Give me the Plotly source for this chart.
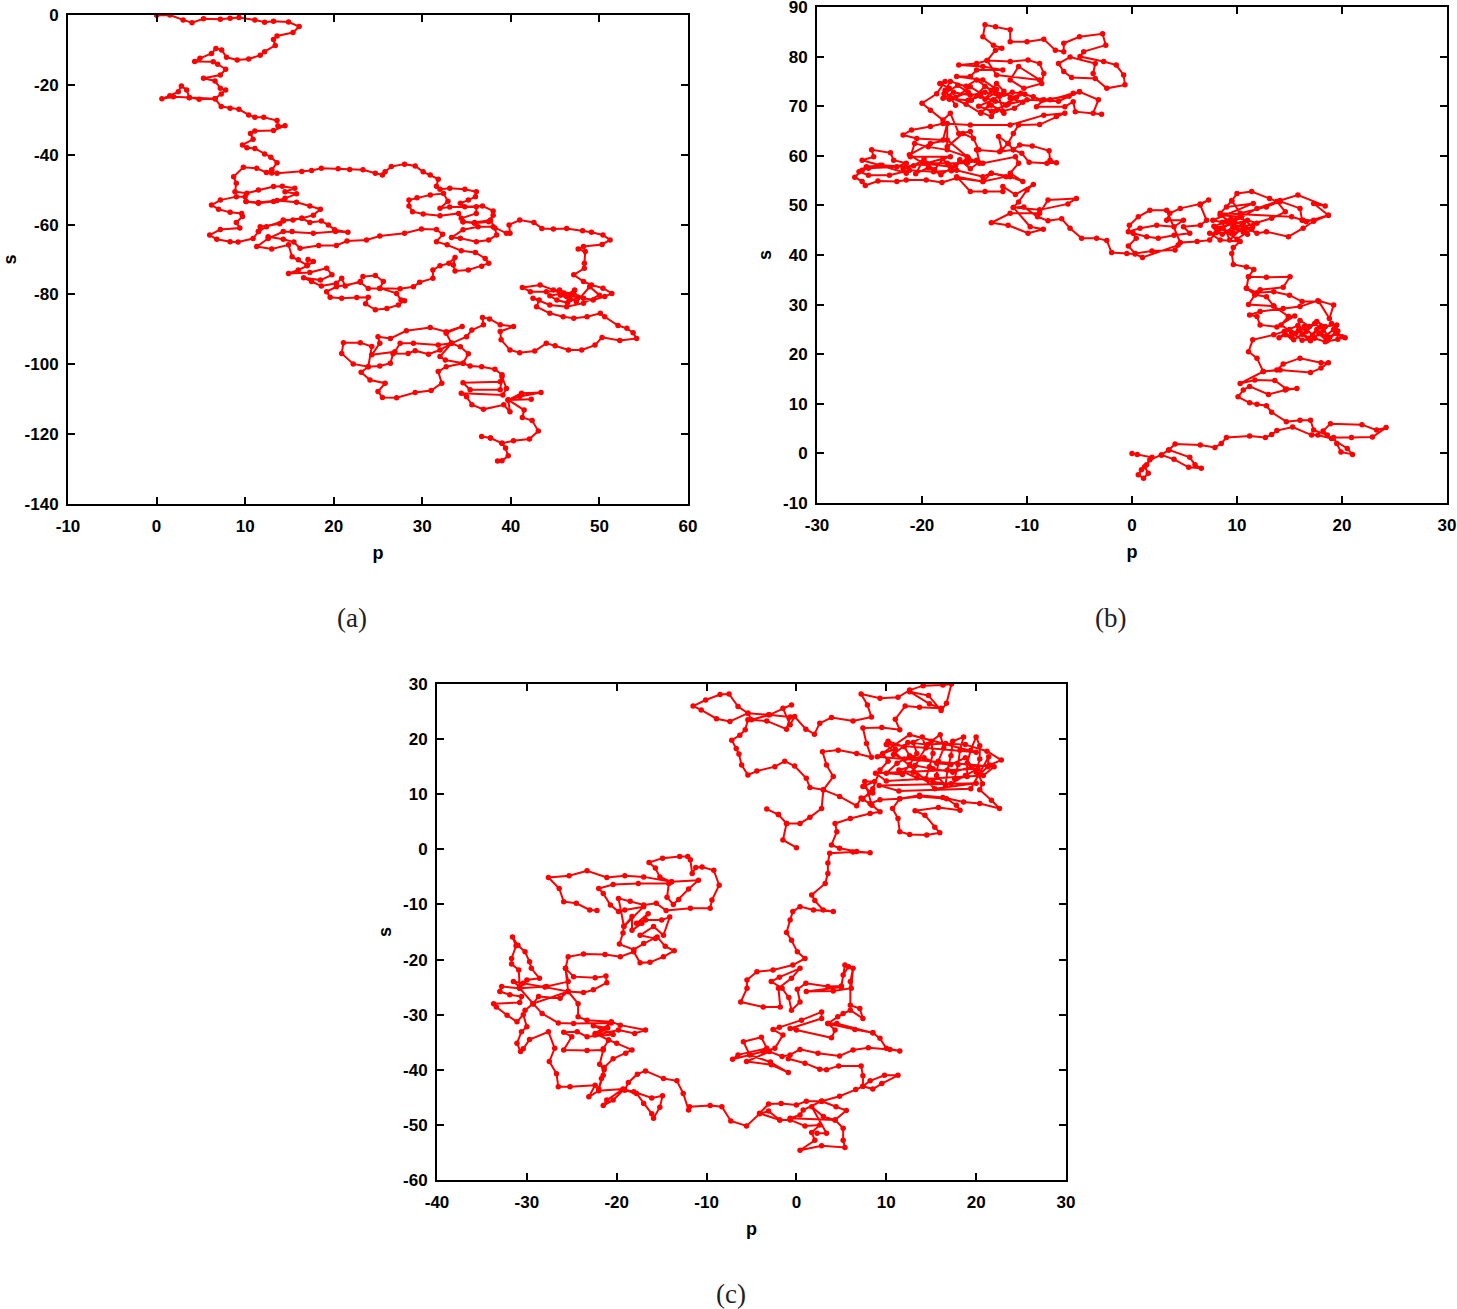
import plotly.graph_objects as go

W, H = 1457, 1309

path_a = [(0,-0.1),(1.5,0),(3,-1.4),(4,-2.2),(5.3,-1.1),(7.2,-1.2),(8.3,-0.9),(9.3,-0.7),(11.1,-1.4),(12.2,-2.1),(13.2,-1.8),(14.9,-2),(16.1,-3.3),(15.4,-5),(13.6,-6),(13.2,-7),(13.4,-8.7),(12.2,-10.5),(11.7,-11.5),(10.4,-12.6),(9.1,-12.9),(7.9,-12.1),(7.35,-10),(6.7,-9.6),(6.2,-11),(4.9,-12.4),(4.3,-13.3),(6.4,-13.4),(6.9,-14.1),(7.8,-15.5),(7.2,-17.2),(5.3,-18.1),(6.6,-18.9),(7.2,-21),(7.8,-21.5),(7.3,-22.6),(6.6,-24),(4.8,-24.1),(3.7,-23.6),(3.4,-21.5),(2.8,-20.3),(2.45,-22),(1.5,-23.1),(0.6,-24),(1.9,-23.4),(3.7,-23.7),(6.6,-24),(7.3,-26.2),(8.3,-26.7),(9.3,-27),(10.4,-28.6),(11.1,-29.3),(12.1,-29.3),(13.6,-30.2),(13.7,-31.8),(14.5,-31.7),(13.2,-33.1),(11.1,-33.2),(10.6,-33.9),(10.9,-35.6),(9.7,-37.2),(10.2,-38),(11.1,-38.2),(12.2,-39.8),(12.9,-40.7),(13.6,-42.3),(13,-44.4),(12.4,-45.1),(11.3,-43.9),(9.8,-43.6),(8.7,-46.3),(9,-48.2),(8.85,-50.6),(10.2,-51),(11.5,-50.1),(13.2,-49.1),(14.2,-49),(15.6,-49.6),(14.5,-50.6),(15.8,-51.2),(14.5,-52.5),(13.2,-53.4),(11.5,-53.9),(10.1,-53.4),(10,-52),(9,-52),(7.2,-53),(6.2,-54.4),(7,-55.6),(8.3,-56.5),(9.6,-56.8),(9.7,-57.7),(9,-59.4),(9.4,-61),(7.2,-61.4),(6,-63),(6.8,-64.2),(8.3,-64.9),(9.2,-65),(10.9,-64),(11.5,-62),(11.7,-60.6),(13.9,-59.8),(14.3,-58.7),(15.4,-58.7),(16.4,-58.2),(17.3,-59.4),(18.6,-59),(19.4,-60.1),(20.1,-61.5),(21.6,-62.2),(20.2,-62),(17.7,-62.5),(15.3,-62),(14.3,-62),(12.6,-64),(11.3,-66.3),(13,-67),(14.9,-65.8),(15.3,-69.2),(16,-70.1),(17,-71.6),(17.1,-70),(17.7,-70.6),(17,-71.8),(16,-73),(14.9,-74),(17.3,-73.7),(19.2,-72.5),(19.8,-74.4),(18.5,-75.9),(16.6,-75.2),(17.5,-76.3),(18.6,-77.6),(20.3,-76.8),(20.9,-75.4),(21.3,-77.6),(23,-76.3),(23.3,-74.9),(24.7,-74.6),(25.6,-76.3),(25.2,-78.3),(23.9,-78.3),(23,-76.5),(20.3,-77.8),(19.2,-79.2),(19.6,-80.8),(20.9,-81.1),(22.6,-80.9),(23.9,-80.8),(23.6,-82.7),(24.7,-84.4),(26,-84),(27.3,-83),(28,-81.8),(27.6,-81.6),(27.1,-79.7),(25.2,-78.2),(27.5,-78.4),(29,-77.8),(29.7,-76.5),(31.2,-75.4),(31.2,-73),(32,-71.8),(33,-71.1),(33.7,-69.4),(33.5,-71.6),(33.7,-73.3),(35.2,-73),(36.7,-71.9),(37.5,-71.1),(37.1,-69.7),(36,-68),(34.4,-67.5),(32.8,-65.8),(31.6,-64.9),(32.3,-62.8),(31.6,-61.4),(29.9,-61.3),(28,-62.5),(25.2,-63.3),(23.7,-64.4),(21.5,-64.7),(20.3,-66),(18.3,-66),(16.2,-66.8),(15.5,-65),(14.3,-64.2),(12.6,-63.5),(None,None),(10.1,-53.4),(11.5,-53.7),(13.6,-53.1),(15.8,-53.6),(17.3,-54.7),(18.5,-55.6),(17.7,-57.3),(16.4,-58.2),(14.3,-59),(12.4,-60.6),(11.5,-62),(None,None),(13,-44.4),(13,-45.2),(13.6,-45.3),(16.4,-44.8),(17.5,-44.5),(18.6,-43.9),(20.5,-44),(21.8,-44.2),(23.3,-44.3),(24.7,-45.3),(25.5,-45.8),(25.8,-44.9),(26.5,-43.4),(28,-42.7),(29.2,-43.2),(30.1,-44.9),(30.9,-45.8),(31.8,-47),(31.6,-49),(32,-49.9),(33.1,-49.6),(34.8,-49.9),(36.1,-50.6),(36,-52),(35.2,-53),(34.3,-53.9),(34.8,-54.9),(36.8,-54.7),(38,-56.1),(38,-57.3),(37.5,-59.2),(35.9,-59.6),(34.6,-59.2),(34.4,-58.2),(36.1,-56.8),(36.1,-54.9),(33.1,-55),(32,-55.3),(32.9,-53.3),(32.4,-51.1),(30.9,-51.5),(29.4,-52.3),(28.5,-53),(28.5,-54.7),(28.9,-56.3),(30.1,-57),(32,-57.5),(34.1,-56.8),(34.6,-59.2),(35.9,-59.4),(37.7,-58.7),(38.2,-61),(38.4,-63),(37.5,-64.4),(36.1,-64.9),(34.3,-63.9),(33.3,-63.7),(34.6,-61.5),(36.3,-60.6),(38,-60.6),(39.5,-62.5),(39.9,-62.5),(39.8,-60.1),(41,-58.7),(42.6,-59.4),(43.5,-61.1),(44.8,-61.3),(46.3,-61.1),(48.1,-61.8),(49.1,-62.2),(50.4,-63),(51.2,-64.4),(50.3,-65.7),(48.2,-66.3),(47.6,-67),(48.4,-67.7),(48.3,-71.1),(48.3,-72.5),(47.1,-74.4),(48.2,-76.3),(49.1,-77.3),(50.4,-78.2),(51.4,-79.7),(50.6,-80.6),(49.3,-81.6),(48.2,-81.1),(47.1,-79.7),(46.3,-80.6),(44.8,-78.7),(43.3,-77.3),(41.3,-78),(42.2,-79.2),(44,-79.2),(45.5,-78.7),(46.4,-80),(47.2,-78.7),(46.6,-81.4),(45.6,-80.2),(47.6,-80.8),(46.4,-82.4),(45.2,-81.6),(44.4,-80.4),(46,-79.6),(47.4,-82.2),(48.9,-77.8),(50,-80.2),(48.2,-82.5),(46.3,-83.5),(44.4,-83),(42.5,-81.1),(43.2,-81.6),(42.9,-83.5),(44.4,-85.4),(45.9,-86.4),(47.1,-86.8),(48.6,-86.4),(50.1,-85.4),(50.6,-86.4),(52.1,-88.9),(53.1,-89.7),(53.8,-91),(54.2,-92.6),(52.3,-93.2),(50.3,-92.3),(49.5,-94.5),(48,-95.9),(46.5,-95.9),(45,-94.7),(44,-94),(42.7,-96.2),(41,-96.7),(39.9,-95.9),(38.9,-93),(38.8,-90.6),(40.3,-89.2),(38.8,-88.7),(37.6,-87),(36.8,-86.6),(36.9,-88.7),(35.6,-90.2),(35,-92.1),(33.3,-94),(32.7,-91.1),(34.5,-89.2),(32.7,-90.7),(30.9,-89.5),(28.2,-90.4),(26.4,-92.6),(25,-92.1),(25.2,-94),(24.3,-97.3),(26.9,-96.4),(27.5,-94),(29,-94),(31.8,-94.5),(33.3,-94),(32,-95.9),(30.7,-97.1),(29.2,-96.1),(28.4,-96.9),(26.7,-97),(26.4,-99.7),(25.2,-100.5),(23.9,-100.7),(22.2,-99.9),(20.9,-96.9),(21.1,-93.8),(23,-93.8),(24.3,-94.9),(23.9,-100.7),(23.1,-102.3),(24.1,-104.5),(25.8,-105.4),(25,-107.8),(25.5,-109.5),(27.1,-109.6),(29.2,-108.1),(31,-107.5),(32.2,-105.4),(31.8,-102.1),(32.7,-100.7),(34.6,-99.7),(35.2,-97),(34.3,-95),(33.3,-94),(32,-97.8),(32.6,-98.8),(34.6,-99.7),(35.4,-100.5),(36.7,-100.7),(38.2,-101.4),(39,-103),(38.8,-105),(34.6,-105.3),(35.4,-107.3),(38.8,-107.3),(39,-103.5),(39.5,-106.9),(39.1,-108.8),(34.4,-108.3),(35,-109.3),(35.6,-111.6),(36.9,-112.9),(39.2,-111.6),(39.9,-113.6),(39.7,-110.2),(42.3,-110),(39.7,-110.2),(41.2,-108.3),(43.4,-108.1),(41,-109.2),(39.7,-110.2),(41.5,-113.1),(41.3,-115.2),(42.4,-116.1),(43.1,-119.1),(42.1,-121.4),(40.3,-121.9),(39,-122.6),(37.7,-121.1),(36.7,-120.7),(37.7,-121.1),(39,-122.6),(39.4,-124),(39.7,-126.2),(39,-127.6),(38.5,-127.7)]

path_b = [(0,0),(0.5,-0.2),(1.9,-0.8),(1.4,-2.3),(0.9,-3.3),(0.6,-4.3),(1.1,-5),(1.55,-4),(1.2,-2.7),(1.7,-1.3),(2.8,-0.3),(3.5,0.7),(5.5,-0.8),(6,-2.3),(6.6,-3),(5.4,-2.8),(4,-1.2),(2.8,-0.3),(3.5,0.7),(4.1,1.9),(6.5,1.7),(7.9,1.2),(8.5,2),(9,3.2),(11.2,3.5),(12.7,3.2),(13.3,3.8),(13.8,4.6),(15.3,5.3),(17.1,3.7),(17.7,3.7),(19,3),(20.5,1),(21,-0.2),(19.9,0.3),(19.5,2),(19.2,3.2),(20.9,3.2),(22.9,3.3),(24.2,5.2),(23.3,4.7),(21.9,5.8),(18.9,6),(18.2,4.5),(18.6,3.7),(17.3,4.7),(17,6.7),(16,6.7),(14.7,6.4),(13.3,8.3),(12.8,9.6),(11.9,9.9),(11.2,10.2),(10.1,11.4),(10.6,12.8),(11.2,13.5),(13,11.9),(14.6,12.8),(15.7,13.1),(14.7,13),(13.6,14.7),(11.7,14.8),(10.3,14.1),(12.5,16.5),(14.1,16.8),(17,16.3),(18,17.2),(18.7,18.3),(18,18.3),(16,19.2),(14.4,18),(13.8,16.8),(12.5,16.5),(11.9,19.2),(11.1,20.5),(11.5,22.9),(13.5,23.9),(14.5,24.6),(15.2,23.4),(16,24.8),(16.8,23.2),(17.6,25),(18.4,23.6),(19.2,25),(20,23.5),(20.3,23.3),(19.4,24.2),(18.6,22.7),(17.8,24.1),(17,22.7),(16.2,24),(15.4,22.9),(14.6,23.9),(14,23.3),(15,25),(15.8,25.8),(16.6,24.6),(17.4,26.2),(18.2,24.8),(19,26.2),(19.6,24.7),(18.8,23.4),(18,25.6),(17.2,23.8),(16.4,25.6),(15.6,24.2),(16,26.8),(16.9,25.6),(17.6,26.6),(18.4,25.6),(19.5,25.9),(19.6,23),(18.4,22.5),(17.4,23.2),(16.2,22.8),(15.2,24.4),(14.2,25.9),(14.9,27.6),(15.5,27.7),(13.8,25.5),(12.2,25.9),(11.9,27.6),(11.2,27.9),(12.2,28.6),(14.4,29.2),(16,29.6),(17.7,30.8),(19.2,29.9),(18.8,27.2),(17.8,30.6),(16.2,30.6),(15,31.9),(13.5,32.6),(11.9,32.4),(10.9,33.3),(11.1,35.6),(12.8,35.5),(15.05,35.6),(14.4,33.5),(12.2,33),(11.7,32),(12.8,31.6),(13.5,29.7),(14.9,27.6),(13.5,29.7),(11.1,30),(11.7,32),(10.9,33.3),(11.1,35.6),(11.6,37.1),(10.9,37.6),(9.65,38.1),(9.5,40.3),(9.65,41.5),(10.3,42.7),(8.4,43),(7.4,44.4),(9.65,44.4),(11.5,45.7),(10.3,47.7),(8.4,48),(9.65,46.4),(8,45.4),(11,47),(11.9,46.4),(10.6,44.6),(9.6,45.6),(8.6,44.2),(7.8,45.8),(9,46.8),(10,45.4),(11,44.2),(10.6,46.4),(9.4,44.6),(8.4,45.4),(10,43.2),(11.4,45.2),(9.4,47.2),(10.4,47.6),(8.6,46.6),(9.3,43),(10.6,45.7),(7.7,47),(11.55,50.4),(9,49.7),(9.5,51),(10.3,48.4),(12.8,49.7),(14.1,50.8),(16,49.4),(16.2,47),(16.6,46.7),(18.7,48),(17.3,46.8),(16.3,45.4),(14.9,43.7),(12.8,44.7),(11.9,44.4),(10.6,45.7),(13.3,47.4),(14.6,48.7),(13.8,50.8),(13.1,51.4),(11.4,52.8),(10,52.4),(9.5,50.9),(8.4,48.4),(15.2,47.7),(16.3,47),(17.3,47),(18.7,48),(17.3,50.4),(18.4,49.9),(15.8,52.1),(14.1,51),(11.9,49.4),(9.5,46.5),(8,44.5),(7.4,43),(6.2,42.7),(4.6,42.5),(3.3,49),(1.7,49),(0.6,47.7),(-0.25,46),(-0.35,44.7),(0.76,45.4),(2.35,46),(4,45.7),(4.9,47),(3.3,47),(3.6,48.4),(4.6,49.4),(6.5,50.3),(7.3,51.1),(6.5,50.1),(7.1,47),(6.5,46),(4.9,45.7),(5.5,44.4),(4,44),(2.5,43.4),(1.4,43.7),(0.1,44.4),(0.4,43.4),(-0.35,41.8),(0.3,40.3),(1.9,40.8),(4.1,41),(4.4,42),(1,39.5),(0.3,40.2),(-0.5,40.3),(-1.94,40.5),(-2.4,42.9),(-3.37,43.4),(-4.8,43.4),(-5.9,45.4),(-6.7,47.3),(-8,46.9),(-9,47.7),(-10.3,49.7),(-11.3,49.6),(-8.8,49.1),(-6.1,50.3),(-5.3,51.4),(-8,51.1),(-8.8,48.4),(-11.6,48.4),(-13.4,46.5),(-11.8,46),(-9.9,44.4),(-8.45,45.2),(-9.7,45.7),(-11.3,49.6),(-10.8,50.7),(-10,53.1),(-9.4,54.2),(-11.1,52.2),(-12.3,53.8),(-12.3,52.8),(-14,52.8),(-15.4,52.8),(-16.7,55.8),(-14.2,54.8),(-13.4,56.5),(-11.6,55.8),(-10.4,54.8),(-11.6,56.5),(-10.8,58.5),(-11.1,59.8),(-14.2,58.5),(-14.8,59.1),(-15.7,58.5),(-17.6,58.5),(-19.6,58.5),(-18.8,57.2),(-18,59.4),(-17.2,57),(-16.4,59.2),(-15.4,57.4),(-14.6,58.6),(-15.6,59.6),(-16.8,58),(-18.2,56.2),(-19.4,57.6),(-20.6,56.4),(-19.8,59.4),(-20.8,58),(-21.8,57.4),(-21.5,56.5),(-24,58.1),(-25.7,59.1),(-24.6,59.8),(-24.8,61.2),(-23,60.6),(-22.7,59.1),(-21.5,58.5),(-22.4,57.8),(-25.1,57.5),(-25.7,57.1),(-26.4,55.7),(-25.7,54.8),(-25.4,54),(-24.2,54.9),(-22.4,54.8),(-21.5,55.1),(-19.6,55.1),(-18.1,54.6),(-16.7,55.5),(-14.2,54.8),(-12,55.8),(-13.4,56.5),(-14.2,55.8),(-16.7,57.1),(-18.9,56.8),(-21.2,57.1),(-23.1,56.1),(-25.1,56.1),(-26,56.8),(-25.3,57.8),(-23.8,58.1),(-21.5,57.8),(-19.6,58.5),(-17.3,59.8),(-21.1,59.8),(-20.7,62.5),(-19.4,61.8),(-17.6,61.2),(-15.7,59.8),(-17.6,63.2),(-19.2,62.5),(-21.2,60.2),(-19.9,58.5),(-17.3,57.8),(-15.7,59.1),(-14.5,58.5),(-14.8,61.2),(-12.6,60.8),(-11.3,61.2),(-10.7,62.2),(-9.5,62),(-7.9,61),(-7.8,59.1),(-7.2,58.6),(-8.1,58.5),(-9.8,58.7),(-10.5,60.5),(-11.3,61.2),(-11.8,62.5),(-12.7,63.9),(-12.4,61.2),(-11.8,62.5),(-11.3,64.5),(-10.8,66.2),(-8.8,66.3),(-7.2,67.9),(-6.4,68.6),(-8.4,68.2),(-11.6,66.2),(-15.4,66.2),(-18,66.5),(-19.2,65.9),(-21,65.2),(-21.8,64.2),(-20.5,63.5),(-18,63.2),(-17.6,66.5),(-17.6,61.8),(-16.1,64.5),(-15.1,63.5),(-14.6,61.2),(-15.4,64.9),(-16.5,64.5),(-17.3,68.6),(-18,67.2),(-19.2,69.2),(-20,70.6),(-18.6,72.5),(-17.8,75),(-18.3,74.6),(-17.4,73.6),(-17.9,72.5),(-16.6,74.2),(-15.6,72.8),(-16.8,71.8),(-15.4,73.9),(-14.4,72.6),(-15.3,71.2),(-14,74),(-13,72.7),(-14,71.4),(-12.9,74.6),(-12.2,73),(-13.2,71.3),(-14.6,70),(-13.4,69),(-12,70.2),(-11,71.8),(-12.2,72.4),(-13.4,73.2),(-14.8,75.3),(-15.8,74),(-17.3,75),(-17.8,73.2),(-16.8,70.2),(-17.3,71.8),(-15.8,70.4),(-14.4,68.6),(-13.6,70.4),(-12.3,69),(-11.2,69.6),(-10.4,70.8),(-11.6,71.6),(-10.2,72.4),(-9.4,71.9),(-8.6,71.2),(-7.8,71.3),(-5.6,72.6),(-5,72.9),(-3.2,71.3),(-3.7,68.6),(-2.9,68.4),(-5.4,68.9),(-5.6,70.9),(-6.4,69.9),(-9.1,69.9),(-8.4,71.3),(-6,72),(-5,72.9),(-7,71),(-10,71.3),(-11.8,70.4),(-13,71),(-14.4,72),(-15.6,71.2),(-17.4,71.4),(-18,71.6),(-17,72.8),(-15.4,72.2),(-14,72.8),(-12.6,72),(-11.4,72.8),(-10.6,72.6),(-12.9,69.2),(-13.4,67.9),(-14.4,68.8),(-13.4,70.2),(-12.2,68.6),(-12.9,73.4),(-14.2,75.3),(-16.7,76),(-15.4,76),(-14.8,77.3),(-12.3,77.3),(-14.2,78),(-16.5,78.3),(-14.8,78.6),(-13.8,79.2),(-11.6,79),(-9.9,79.3),(-8.8,78.6),(-8.4,76.6),(-8.6,74.6),(-10.3,73.6),(-11.6,75.3),(-10.8,78),(-8.8,75.3),(-12.9,76.3),(-13.8,79.2),(-13,81.3),(-12.4,81.7),(-13.2,82.3),(-14.2,84),(-14,86.4),(-13,86),(-11.6,85.4),(-11.6,83),(-10,83),(-8.4,83.5),(-7.3,81.3),(-6.5,81),(-6.5,82.7),(-5,84),(-2.8,84.6),(-2.5,82.3),(-4.6,81),(-4.95,80),(-2.7,79),(-1.5,78.3),(-0.8,76.3),(-0.67,74.3),(-2.4,73.6),(-3.5,75.6),(-5.75,75.8),(-6.5,77),(-7,78.6),(-5.9,79.9),(-3.5,78.6),(-3.7,76.6)]

path_c = [(0,0.3),(-1.5,1.7),(-1.1,4.7),(-2,6.3),(-3.3,7.3),(-2,6.3),(-1.1,4.7),(0.4,4.7),(1.5,5.8),(2.8,7.4),(3,10.8),(1.5,11.2),(1.1,12.9),(-0.2,15.1),(-1.3,16),(-2.4,15),(-4.4,14.2),(-5.4,13.5),(-6.1,15.3),(-6.4,17.3),(-6.7,18.3),(-7.2,19.8),(-6.3,20.7),(-5.7,21.7),(-5.4,23.5),(-3.3,23.3),(-1.1,21.8),(-0.7,24),(-3.1,24.4),(-5.4,24.7),(-7.4,23.2),(-8.9,23.7),(-10.6,25.3),(-11.5,26),(-10.1,27.1),(-8.5,28.1),(-7.5,28.2),(-6.5,25.9),(-5.4,24.7),(-5,23.5),(-3,24.4),(-0.55,26.2),(-1.5,25.6),(-0.7,22.6),(-0.2,24.1),(1.05,21.8),(2,20.9),(2.6,22.9),(3.9,23.9),(6.3,23.3),(8.35,24),(7.9,26.2),(7.2,28.2),(9.3,27.4),(11.3,27.6),(12.6,28.9),(14.1,29.7),(16.3,29.8),(17.25,30),(16.7,26.5),(16.1,25.2),(14.7,27.9),(12.6,28.6),(14.8,26.4),(16.1,25.6),(13.7,25.8),(12.1,26),(11,23.6),(11.5,21.7),(9.5,22.1),(7.4,22),(7.8,19.2),(8.35,16.7),(6.7,17.4),(4.65,18),(2.9,17.7),(3.35,15.3),(4.1,13.2),(3,10.8),(4.8,9.6),(6.7,7.9),(7.2,9.3),(8.5,10.2),(7.4,11.4),(8.7,12.3),(7.6,12.3),(8.4,8),(7.4,9.1),(8.5,11),(9.3,14.4),(10.2,16),(9.6,17.4),(11,18.2),(10.2,19.6),(12,18.6),(12.6,17),(11.2,15.6),(10,13.8),(11.8,13.6),(12.6,15.4),(13.4,17.4),(13,19.4),(14,20.4),(14.4,18.4),(13.6,16.4),(13,14),(14.4,12.8),(14.8,15),(15.2,17.4),(15,19.6),(16,20.8),(16.4,18.4),(15.8,16),(15.6,13.4),(16.6,11.6),(16.8,14.4),(17.2,17),(17.4,19.6),(18.6,20.4),(18.2,18),(18,15.4),(17.6,12.8),(19,13.2),(19,15.6),(19.4,18),(20,20.4),(20.4,18.8),(20.4,16.4),(20,14),(18.8,16.6),(17.2,15.4),(15.6,15.6),(14.2,16.6),(13,16.6),(12,16.4),(10.8,17.2),(12.4,19.4),(14.6,19),(16.6,19.2),(18.8,19),(21.2,17.8),(22.8,16.2),(21.5,15.3),(19.5,15),(17.4,14),(15.2,14.6),(13.2,15.2),(11.4,14.4),(13.4,13),(15.2,12.2),(17.2,11.9),(18.8,13.4),(20.2,14.6),(8.8,13.8),(10,12.4),(20.8,13.4),(22,15),(9,16.8),(12.6,20.8),(20,17.6),(10,19),(15.4,11),(20,12),(9.2,11.6),(11.4,10.6),(19.4,11),(21.4,16.8),(21.3,15),(20.3,13.5),(20.7,11.9),(20.4,10.8),(21.7,8.9),(22.6,7.4),(20.4,8.3),(18.6,8.6),(16.3,9.4),(13.7,9.8),(11.5,9.2),(10.7,7.4),(11.3,5.6),(11.5,3.2),(12.6,2.7),(14.5,2.6),(15.95,3),(15.4,4),(14.3,6.2),(13.2,7),(15.8,7.6),(18.2,7.1),(17.8,8),(16.7,9.2),(13.7,9.6),(11.5,9.2),(9.3,9),(8.2,8.3),(9.3,6.8),(8.2,6.5),(6,5.6),(4.3,4.7),(4.5,3.2),(3.9,0.8),(4.8,0.2),(6.7,-0.4),(8.2,-0.6),(6.3,-0.5),(3.7,-0.7),(3.5,-2.5),(3.5,-4.4),(3.2,-6.2),(1.7,-8.3),(2.05,-9.3),(2.97,-11),(4.1,-11.3),(1.9,-11),(0.4,-10.4),(-0.4,-11.3),(-0.7,-12.8),(-1.1,-15.1),(-0.55,-16.5),(0.1,-18.6),(0.95,-19.8),(-0.4,-21),(-2.6,-21.9),(-4.4,-22.2),(-5.5,-23.7),(-5.5,-25.2),(-6.2,-27.7),(-3.7,-28.6),(-1.8,-28.6),(-2,-25.2),(-0.55,-23.4),(0.4,-21.6),(-1.9,-23.2),(-2.8,-24),(-1.6,-25.2),(-0.85,-26.9),(-0.55,-29.2),(0.4,-27.7),(0.1,-25.4),(1.05,-24.3),(3.5,-24.9),(5,-24.8),(5.4,-21),(5.8,-21.3),(5.2,-22.8),(5,-25),(1.1,-25.8),(4.1,-25.7),(6.1,-25.2),(6.3,-21.6),(6,-24),(6,-28.3),(7.05,-28.9),(7.4,-30.7),(6,-29.2),(5.2,-29.8),(4.6,-30.4),(3.5,-31.6),(6.5,-32.7),(8.5,-33.3),(9.3,-34.3),(10,-36.1),(11.5,-36.6),(10.4,-36.3),(8,-36),(6.3,-36.4),(4.8,-37.5),(2.4,-37),(0.4,-36.3),(-0.7,-37.3),(-1.6,-37.6),(-3,-36.7),(-5.55,-38.5),(-2.8,-39.1),(-0.9,-40.5),(-2.9,-38.6),(-5.2,-37.3),(-5.9,-34.9),(-3.9,-34.1),(-3.3,-36.1),(-6.5,-37.3),(-7.1,-38.1),(-3.7,-36.7),(-2.4,-36.1),(-1.5,-33.7),(-2.6,-32.7),(-1.9,-32.3),(0.55,-31),(2.8,-29.5),(2.8,-30.7),(-0.7,-32.5),(0,-32.8),(3.9,-34.2),(4.3,-32.8),(3.5,-31.6),(4.5,-31.6),(8.5,-33.3),(None,None),(-0.9,-38),(0.95,-38.8),(2.6,-39.9),(3.35,-40),(4.7,-39.3),(7.2,-39.3),(7.4,-41.1),(7.4,-43),(8.5,-43.5),(9.5,-42.5),(11.3,-41),(9.8,-41),(8.2,-42),(7.4,-43),(6.6,-43.6),(4.8,-44.8),(2.8,-45.7),(1.1,-45.7),(0,-46.4),(-1.7,-46.1),(-3.1,-46.2),(-4.1,-47.9),(-1.85,-49.1),(-0.7,-49.1),(0.95,-50.2),(2.6,-50),(1.7,-51.4),(2.05,-52.8),(0.4,-54.6),(2.8,-53.8),(5.4,-54.1),(5.2,-52.8),(5.2,-50.6),(4.3,-49.1),(5.55,-47.4),(2.8,-45.7),(4.4,-46.7),(2.8,-45.7),(0.75,-47.3),(0.4,-48.2),(-0.7,-48.8),(4.3,-49.1),(3,-48.5),(1.7,-46.7),(3.35,-51.5),(2.3,-51.5),(None,None),(-1.85,-49.1),(-3.1,-47.5),(-4.1,-48),(-5.55,-50.2),(-7.3,-49.3),(-8.3,-46.7),(-9.6,-46.5),(-11.9,-46.7),(-12,-47.3),(-12.6,-44.3),(-13.3,-42),(-14.8,-41.6),(-16.8,-40.2),(-17.7,-40.8),(-18.7,-42.3),(-19.1,-43.7),(-17.8,-44.3),(-17,-46.1),(-16.1,-48),(-15.9,-48.8),(-15.2,-46.8),(-14.9,-44.7),(-16.1,-45.1),(-18.1,-44),(-19.2,-43.6),(-20.4,-45.5),(-21.5,-46.5),(-21.1,-45.5),(-19.3,-43.5),(-22,-43.8),(-23.1,-44.9),(-22.4,-42.8),(-25.2,-43.1),(-26.5,-43.1),(-26.7,-40.7),(-27.5,-38.5),(-26.9,-36.1),(-27.6,-33.1),(-29.7,-34.5),(-30.4,-36.2),(-30.7,-36.7),(-31.1,-35.2),(-30.6,-33.1),(-30,-32.2),(-30.4,-30),(-31.1,-31.3),(-32.2,-30.1),(-33.4,-28.6),(-33.7,-28),(-30.8,-27.8),(-30.6,-26.7),(-31.9,-26.4),(-33,-25.8),(-32.8,-24.9),(-30.8,-25.2),(-27.8,-24.9),(-25.4,-24),(-25.7,-21.6),(-24.8,-23.1),(-22.4,-23.3),(-21.2,-23),(-21.1,-24.2),(-22.6,-25.5),(-23.7,-26),(-25.4,-25.8),(-28,-25),(-30.4,-24.3),(-31.5,-24),(-30.8,-25),(-30.9,-21.9),(-31.7,-20.8),(-31.7,-19.8),(-31.2,-17.5),(-31.6,-15.9),(-31,-17.4),(-30.2,-18.6),(-29.7,-20.4),(-29.5,-21.6),(-28.6,-23.4),(-30,-23.7),(-30.8,-25.2),(-29.3,-28),(-28.7,-26.7),(-26.3,-27),(-25.4,-25.8),(-24.3,-28),(-24.3,-30.4),(-23.3,-31),(-20.6,-31.3),(-19.6,-31.9),(-16.8,-32.8),(-18,-33.4),(-19.8,-32.8),(-22.4,-33.7),(-21,-32.4),(-22.6,-32),(-20.4,-33.6),(-23.3,-34),(-24.4,-33.1),(-25.9,-33.2),(-25,-34),(-25.9,-36.4),(-23.3,-36.5),(-21.5,-36.4),(-21.9,-39),(-21.4,-40),(-21.7,-41.6),(-22,-43.5),(-21.5,-41),(-21.4,-39.6),(-20.4,-38),(-19,-37),(-18.3,-36.4),(-20,-35.2),(-20.9,-34.6),(-21.5,-36.2),(-20.9,-34.6),(-22.4,-33.4),(-20.6,-31.5),(-24.8,-31.6),(-26.5,-31.5),(-28.3,-29.8),(-29.3,-28),(-30.2,-29.2),(-29.3,-28),(-25.4,-25.8),(-25.7,-21.6),(-25.4,-19.5),(-23.7,-19),(-21.3,-19.1),(-19.6,-19.5),(-18.1,-18.6),(-17.4,-20.6),(-16.3,-20.5),(-14.8,-19.5),(-13.6,-18.4),(-14.6,-17.6),(-15.5,-15.9),(-17,-17.1),(-18.1,-18.2),(-19.7,-17.2),(-19.3,-15.2),(-19.2,-13.9),(-19.8,-8.9),(-18.5,-9.4),(-17,-10.1),(-15.6,-9.8),(-14.5,-11.1),(-11.8,-10.7),(-9.6,-10.7),(-9.4,-9.2),(-8.6,-6.5),(-9.2,-3.8),(-10.5,-3.2),(-11.2,-3.3),(-11.6,-4.4),(-11.8,-1.9),(-12.1,-1.3),(-13,-1.3),(-14.9,-1.6),(-16.4,-2.4),(-15.7,-3.4),(-15.2,-5),(-13.9,-5.9),(-17,-5),(-19.1,-4.8),(-21.1,-5.1),(-23.3,-3.9),(-25.3,-4.8),(-27.6,-5.1),(-26.4,-7.1),(-25.9,-9.5),(-24.5,-9.8),(-23,-11),(-22.2,-11.1)]

path_c2 = [(-13.9,-5.9),(-10.9,-5.6),(-12,-7.2),(-13.1,-9.1),(-13.7,-10),(-14.4,-8.7),(-14.2,-6.2),(-17.6,-6.2),(-20.4,-6.4),(-22,-7.1),(-21.5,-8),(-20.7,-10.1),(-19.8,-11.3),(-19.1,-11),(-17,-10.4),(-19.2,-14),(-18.3,-12.2),(-18.3,-14.7),(-17.2,-13.4),(-16.5,-11.7),(-17.8,-13.4),(-16.8,-12.8),(-15,-12.8),(-14.1,-12.3),(-14.8,-15.6),(-15.9,-14),(-17.4,-15.6),(-15.7,-16.2)]

x_a, s_a = zip(*path_a)
x_b, s_b = zip(*path_b)
x_c, s_c = zip(*(path_c + [(None, None)] + path_c2))

ticks_a_x = [-10,0,10,20,30,40,50,60]
ticks_a_y = [0,-20,-40,-60,-80,-100,-120,-140]
ticks_b_x = [-30,-20,-10,0,10,20,30]
ticks_b_y = [-10,0,10,20,30,40,50,60,70,80,90]
ticks_c_x = [-40,-30,-20,-10,0,10,20,30]
ticks_c_y = [-60,-50,-40,-30,-20,-10,0,10,20,30]
captions = ["(a)", "(b)", "(c)"]

RED = "#ff0000"
FONT = "Liberation Sans"
fig = go.Figure()
for i, (xs, ys) in enumerate([(x_a, s_a), (x_b, s_b), (x_c, s_c)]):
    fig.add_trace(go.Scatter(x=xs, y=ys, mode="lines+markers", showlegend=False,
                             xaxis=f"x{i+1}" if i else "x", yaxis=f"y{i+1}" if i else "y",
                             line=dict(color=RED, width=2),
                             marker=dict(color=RED, size=5.5),
                             connectgaps=False))

def axis(dom, rng, ticks, title, anchor, standoff, label_standoff):
    return dict(domain=dom, range=rng, tickmode="array", tickvals=ticks, ticktext=[str(t) for t in ticks],
                ticks="inside", ticklen=7, tickwidth=2, tickcolor="black", mirror="ticks",
                showline=True, linecolor="black", linewidth=2, showgrid=False, zeroline=False,
                tickfont=dict(family=FONT, size=17, color="black", weight="bold"),
                ticklabelstandoff=label_standoff, ticklabeloverflow="allow",
                title=dict(text=title, font=dict(family=FONT, size=18, color="black", weight="bold"), standoff=standoff),
                anchor=anchor, automargin=False, tickangle=0)

def dx(a, b): return [a / W, b / W]
def dy(top, bot): return [1 - bot / H, 1 - top / H]

fig.update_layout(
    width=W, height=H, margin=dict(l=0, r=0, t=0, b=0), paper_bgcolor="white", plot_bgcolor="white",
    xaxis=axis(dx(68, 688), [-10, 60], ticks_a_x, "p", "y", 11, 6),
    yaxis=axis(dy(15, 504), [-140, 0], ticks_a_y, "s", "x", 16, 4),
    xaxis2=axis(dx(817, 1447), [-30, 30], ticks_b_x, "p", "y2", 11, 6),
    yaxis2=axis(dy(7, 503), [-10, 90], ticks_b_y, "s", "x2", 7, 4),
    xaxis3=axis(dx(437, 1066), [-40, 30], ticks_c_x, "p", "y3", 11, 6),
    yaxis3=axis(dy(684, 1180), [-60, 30], ticks_c_y, "s", "x3", 7, 4),
    annotations=[dict(text=t, x=px / W, y=1 - py / H, xref="paper", yref="paper", showarrow=False,
                      xanchor="center", yanchor="middle",
                      font=dict(family="Liberation Serif", size=27, color="#222"))
                 for t, px, py in zip(captions, [352, 1110, 731], [618, 618, 1294])],
)
fig.write_html("out.html", config={"displayModeBar": False}, post_script="document.body.style.margin='0';")
